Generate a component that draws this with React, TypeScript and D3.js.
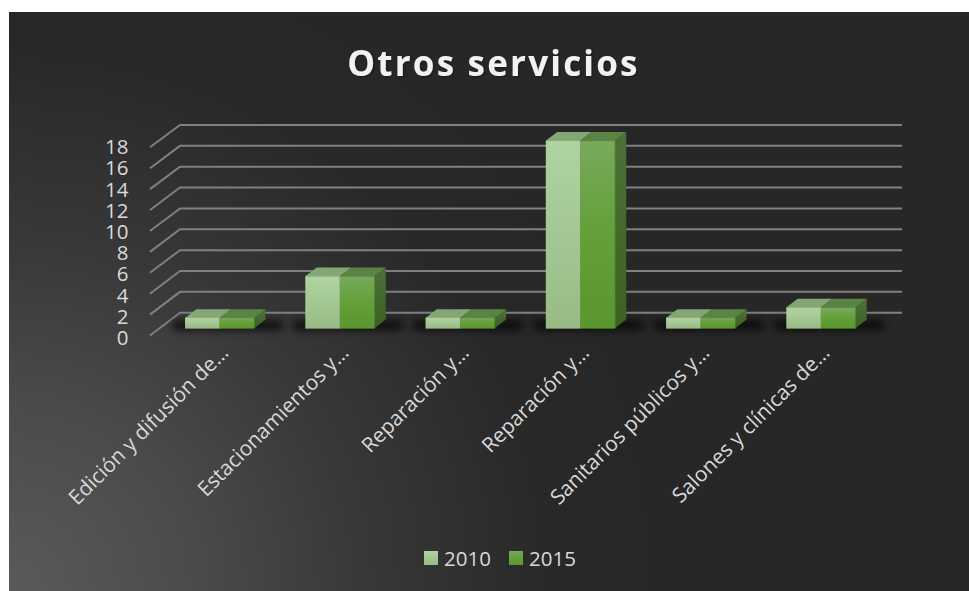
import React from "react";
import * as d3 from "d3";

const title = "Otros servicios";
const categories = [
  "Edición y difusión de…",
  "Estacionamientos y…",
  "Reparación y…",
  "Reparación y…",
  "Sanitarios públicos y…",
  "Salones y clínicas de…",
];
const seriesNames = ["2010", "2015"];
const values2010 = [1, 5, 1, 18, 1, 2];
const values2015 = [1, 5, 1, 18, 1, 2];
const ticks = [0, 2, 4, 6, 8, 10, 12, 14, 16, 18];

const W = 969;
const H = 591;
const DX = 11.3;
const DY = -8.7;
const FONT = "'Open Sans', sans-serif";

const x0 = d3.scaleBand<string>()
  .domain(categories.map((_, i) => String(i)))
  .range([159.5, 881])
  .paddingInner(0.425)
  .paddingOuter(0.2125);
const x1 = d3.scaleBand<string>().domain(seriesNames).range([0, x0.bandwidth()]);
const yBar = d3.scaleLinear().domain([0, 18]).range([328.3, 140.7]);
const yFront = d3.scaleLinear().domain([0, 18]).range([335.5, 147.3]);
const yBack = d3.scaleLinear().domain([0, 18]).range([312.7, 125]);
const yLabel = d3.scaleLinear().domain([0, 18]).range([337.7, 146.7]);

const line = d3.line<[number, number]>();

function Bar({ x, w, v, s, last }: { x: number; w: number; v: number; s: number; last: boolean }) {
  const y0 = yBar(0);
  const y = yBar(v);
  const front: [number, number][] = [[x, y], [x + w, y], [x + w, y0], [x, y0]];
  const top: [number, number][] = [[x, y], [x + DX, y + DY], [x + w + DX, y + DY], [x + w, y]];
  const side: [number, number][] = [[x + w, y], [x + w + DX, y + DY], [x + w + DX, y0 + DY], [x + w, y0]];
  return (
    <g>
      {last && <path d={line(side)!} fill="url(#side)" />}
      <path d={line(top)!} fill={s === 0 ? "#84a674" : "#5a8446"} />
      <path d={line(front)!} fill={`url(#front${s})`} stroke={s === 0 ? "#9cc488" : "#5c9638"} strokeWidth={0.6} />
    </g>
  );
}

export default function App() {
  const series = [values2010, values2015];
  return (
    <svg width={W} height={H} viewBox={`0 0 ${W} ${H}`} style={{ position: "absolute", left: 0, top: 0 }}>
      <defs>
        <radialGradient id="bg" gradientUnits="userSpaceOnUse" cx={9} cy={591} r={640}>
          <stop offset="0" stopColor="#5a5a5a" />
          <stop offset="0.3" stopColor="#4a4a4a" />
          <stop offset="0.55" stopColor="#383838" />
          <stop offset="0.85" stopColor="#282828" />
          <stop offset="1" stopColor="#272727" />
        </radialGradient>
        <linearGradient id="front0" x1="0" y1="0" x2="0" y2="1">
          <stop offset="0" stopColor="#b0d4a0" />
          <stop offset="1" stopColor="#98bb86" />
        </linearGradient>
        <linearGradient id="front1" x1="0" y1="0" x2="0" y2="1">
          <stop offset="0" stopColor="#78a95c" />
          <stop offset="0.5" stopColor="#63a038" />
          <stop offset="1" stopColor="#5a962e" />
        </linearGradient>
        <linearGradient id="side" x1="0" y1="0" x2="0" y2="1">
          <stop offset="0" stopColor="#4d7038" />
          <stop offset="1" stopColor="#3b6122" />
        </linearGradient>
        <filter id="blur" x="-30%" y="-150%" width="160%" height="400%">
          <feGaussianBlur stdDeviation="4" />
        </filter>
        <filter id="titleShadow" x="-10%" y="-30%" width="120%" height="160%">
          <feDropShadow dx="1" dy="1" stdDeviation="1" floodColor="#000" floodOpacity="0.4" />
        </filter>
      </defs>

      <rect x={9} y={12} width={W - 9} height={H - 12} fill="url(#bg)" />

      <text
        x={493.5}
        y={75.5}
        textAnchor="middle"
        fontFamily={FONT}
        fontWeight={700}
        fontSize={35}
        letterSpacing={2.2}
        fill="#f2f2f2"
        filter="url(#titleShadow)"
      >
        {title}
      </text>

      {ticks.map((t) => (
        <path
          key={t}
          d={line([[150, yFront(t)], [180, yBack(t)], [902, yBack(t)]])!}
          fill="none"
          stroke="#808080"
          strokeWidth={2}
        />
      ))}

      {ticks.map((t) => (
        <text key={t} x={128.5} y={yLabel(t)} dy="0.36em" textAnchor="end" fontFamily={FONT} fontSize={20.5} fill="#d9d9d9">
          {t}
        </text>
      ))}

      {categories.map((_, i) => {
        const x = x0(String(i))!;
        const w = x0.bandwidth();
        return (
          <rect key={i} x={x - 12} y={yBar(0) - 7} width={w + 40} height={8} fill="#000" opacity={0.85} filter="url(#blur)" />
        );
      })}

      {categories.map((_, i) => {
        const x = x0(String(i))!;
        return (
          <g key={i}>
            {seriesNames.map((n, s) => (
              <Bar key={n} x={x + x1(n)!} w={x1.bandwidth()} v={series[s][i]} s={s} last={s === 1} />
            ))}
          </g>
        );
      })}

      {categories.map((c, i) => {
        const cx = x0(String(i))! + x0.bandwidth() / 2 + 10;
        return (
          <text
            key={i}
            transform={`translate(${cx},354) rotate(-45)`}
            textAnchor="end"
            fontFamily={FONT}
            fontSize={20.8}
            fill="#d9d9d9"
          >
            {c}
          </text>
        );
      })}

      {seriesNames.map((n, s) => {
        const lx = 424 + s * 85;
        return (
          <g key={n}>
            <rect x={lx} y={551} width={14} height={14} fill={`url(#front${s})`} />
            <text x={lx + 20} y={565.5} fontFamily={FONT} fontSize={20.5} fill="#d9d9d9">
              {n}
            </text>
          </g>
        );
      })}
    </svg>
  );
}
